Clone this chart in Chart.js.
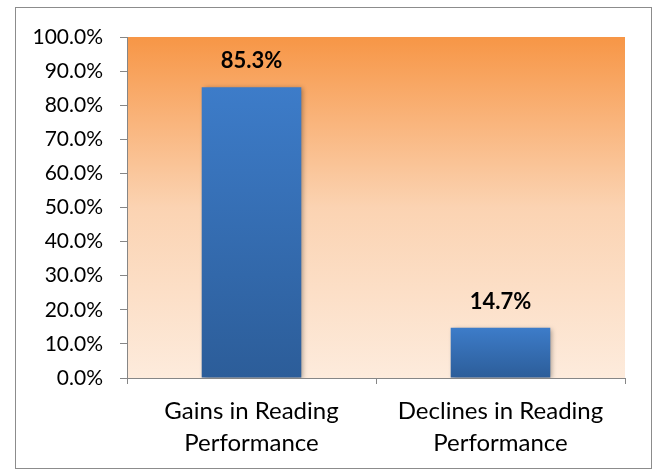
<!DOCTYPE html>
<html>
<head>
<meta charset="utf-8">
<script src="https://cdn.jsdelivr.net/npm/chart.js@4"></script>
<style>
  html, body { margin: 0; padding: 0; background: #fff; }
  #wrap { width: 658px; height: 471px; }
</style>
</head>
<body>
<div id="wrap"><canvas id="reading"></canvas></div>
<script>
const categories = [['Gains in Reading', 'Performance'], ['Declines in Reading', 'Performance']];
const shares = [85.3, 14.7];
const yTicks = [0, 10, 20, 30, 40, 50, 60, 70, 80, 90, 100];

// orange fade behind the plot + frame around the whole picture
const backdrop = {
    id: 'backdrop',
    beforeDraw(chart) {
        const { ctx, chartArea: a } = chart;
        const g = ctx.createLinearGradient(0, a.top, 0, a.bottom);
        g.addColorStop(0, '#F79646');
        g.addColorStop(0.5, '#FBD3B2');
        g.addColorStop(1, '#FDEBDC');
        ctx.save();
        ctx.fillStyle = g;
        ctx.fillRect(a.left, a.top, a.right - a.left, a.bottom - a.top);
        ctx.restore();
    },
    beforeDatasetsDraw(chart) {
        const ctx = chart.ctx;
        ctx.save();
        ctx.shadowColor = 'rgba(0,0,0,0.35)';
        ctx.shadowBlur = 5;
        ctx.shadowOffsetX = 2;
        ctx.shadowOffsetY = 1;
    },
    afterDatasetsDraw(chart) {
        chart.ctx.restore();
        // value labels above bars
        const ctx = chart.ctx;
        const meta = chart.getDatasetMeta(0);
        ctx.save();
        ctx.font = 'bold 22px Lato, "Open Sans", sans-serif';
        ctx.fillStyle = '#000';
        ctx.textAlign = 'center';
        ctx.textBaseline = 'middle';
        meta.data.forEach((bar, i) => {
            ctx.fillText(shares[i].toFixed(1) + '%', bar.x, bar.y - 26);
        });
        ctx.restore();
    },
    afterDraw(chart) {
        const ctx = chart.ctx;
        ctx.save();
        ctx.strokeStyle = '#8c8c8c';
        ctx.lineWidth = 1;
        ctx.strokeRect(15.5, 7.5, 636, 461);
        ctx.restore();
    }
};

function barFill(c) {
    const chart = c.chart;
    const y = chart.scales.y;
    if (!y || !chart.chartArea) return '#3A75BD';
    const top = y.getPixelForValue(shares[c.dataIndex]);
    const base = y.getPixelForValue(0);
    const g = chart.ctx.createLinearGradient(0, top, 0, base);
    g.addColorStop(0, '#3D7CC9');
    g.addColorStop(1, '#2C5D99');
    return g;
}

new Chart(document.getElementById('reading'), {
    type: 'bar',
    data: {
        labels: categories,
        datasets: [{
            data: shares,
            backgroundColor: barFill,
            borderWidth: 0,
            categoryPercentage: 1,
            barPercentage: 0.4
        }]
    },
    plugins: [backdrop],
    options: {
        responsive: true,
        maintainAspectRatio: false,
        animation: false,
        layout: { padding: { left: 0, right: 33, top: 37, bottom: 0 } },
        plugins: {
            legend: { display: false },
            tooltip: { enabled: false }
        },
        scales: {
            x: {
                afterFit(s) { s.height = 93; },
                grid: {
                    display: true,
                    drawOnChartArea: false,
                    offset: true,
                    tickLength: 6,
                    color: '#868686'
                },
                border: { color: '#868686' },
                ticks: {
                    color: '#000',
                    padding: 11,
                    font: { family: 'Lato, "Open Sans", sans-serif', size: 24, lineHeight: 1.35 }
                }
            },
            y: {
                min: 0,
                max: 100,
                afterFit(s) { s.width = 127; },
                afterBuildTicks(s) { s.ticks = yTicks.map(v => ({ value: v })); },
                grid: {
                    display: true,
                    drawOnChartArea: false,
                    tickLength: 7,
                    color: '#868686'
                },
                border: { color: '#868686' },
                ticks: {
                    color: '#000',
                    padding: 17,
                    font: { family: 'Lato, "Open Sans", sans-serif', size: 21 },
                    callback: v => v.toFixed(1) + '%'
                }
            }
        }
    }
});
</script>
</body>
</html>
